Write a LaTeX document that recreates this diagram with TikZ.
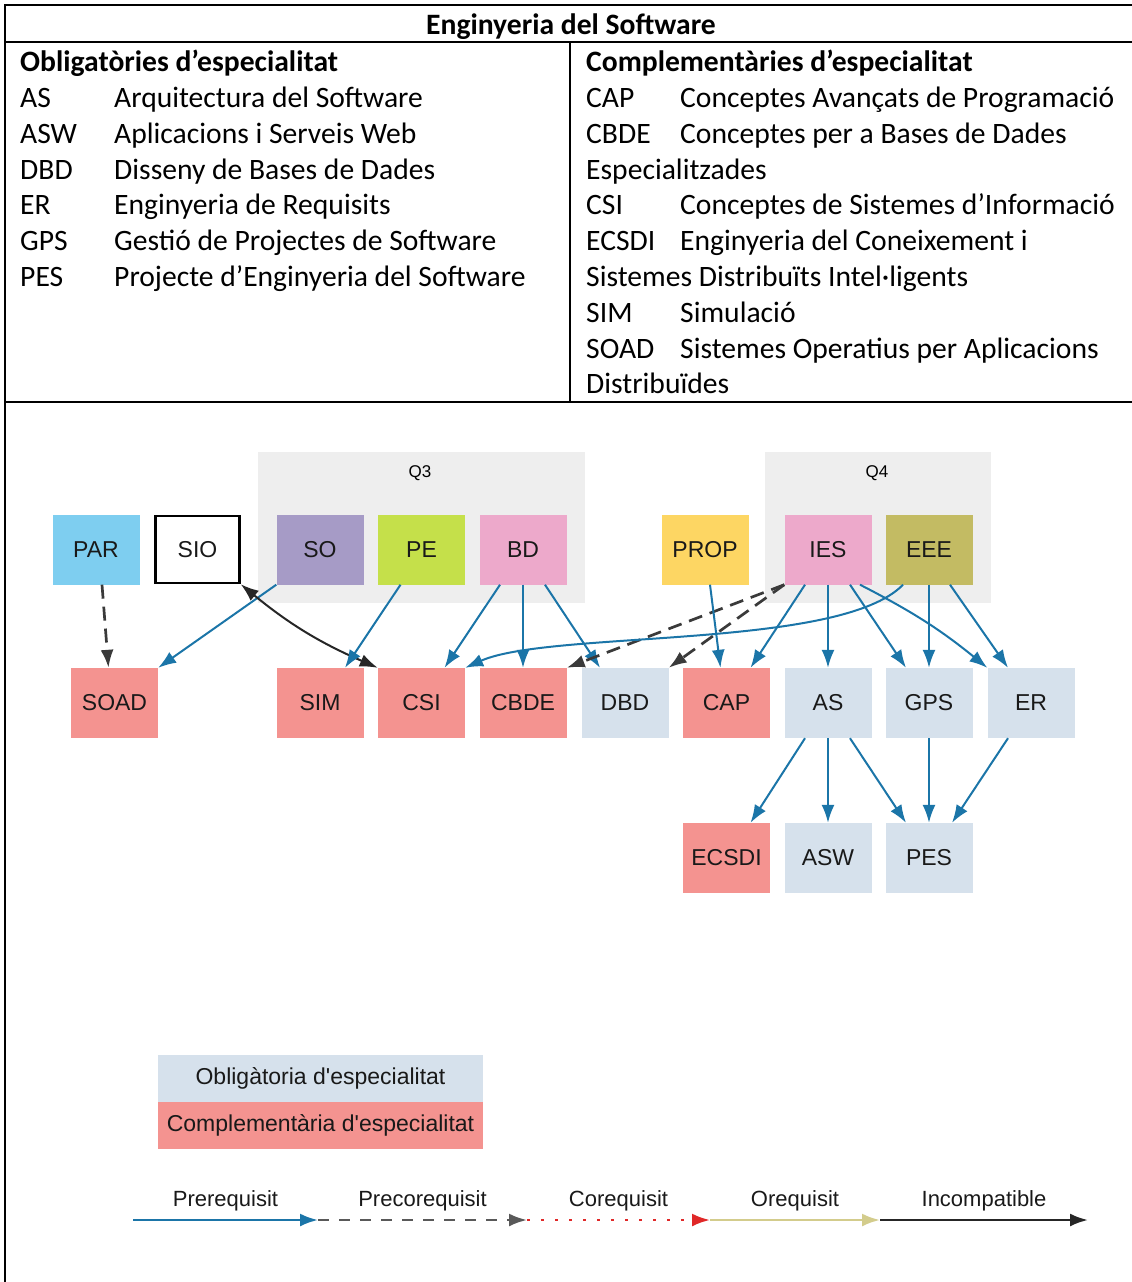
\documentclass[tikz,border=0pt]{standalone}
\usepackage{fontspec}
\setmainfont{Carlito}
\newfontfamily\diagfont{Liberation Sans}
\usetikzlibrary{arrows.meta}
\definecolor{prereqblue}{HTML}{1B75A8}
\definecolor{precoregray}{HTML}{3A3A3A}
\definecolor{coreqred}{HTML}{E02828}
\definecolor{oreqkhaki}{HTML}{D3CC8C}
\definecolor{oblcol}{HTML}{D6E1EC}
\definecolor{compcol}{HTML}{F49390}
\definecolor{groupbg}{HTML}{EEEEEE}
\definecolor{parcol}{HTML}{7ECEF0}
\definecolor{socol}{HTML}{A69BC6}
\definecolor{pecol}{HTML}{C5E04A}
\definecolor{bdcol}{HTML}{EDA9CB}
\definecolor{propcol}{HTML}{FDD663}
\definecolor{eeecol}{HTML}{C3BB63}
\begin{document}
\begin{tikzpicture}[x=1pt,y=-1pt,>={Latex[length=18pt,width=13pt]}]
\tikzset{
  subject/.style={minimum width=87pt,minimum height=70pt,inner sep=0pt,text=black!90,font=\diagfont\fontsize{23}{26}\selectfont},
  obl/.style={subject,fill=oblcol},
  comp/.style={subject,fill=compcol},
  pre/.style={->,draw=prereqblue,line width=2pt},
  precore/.style={->,draw=precoregray,line width=2.7pt,dash pattern=on 14pt off 8pt},
  incomp/.style={draw=black!85,line width=2pt},
  tabtext/.style={anchor=base west,inner sep=0pt,font=\fontsize{29.6}{35}\selectfont},
  tabhead/.style={tabtext,font=\bfseries\fontsize{29.6}{35}\selectfont},
  qlabel/.style={font=\diagfont\fontsize{17}{19}\selectfont},
  legendlabel/.style={font=\diagfont\fontsize{22}{25}\selectfont,text=black!90},
  keybox/.style={minimum width=325pt,minimum height=47pt,inner sep=0pt,text=black!90,font=\diagfont\fontsize{23}{26}\selectfont}
}
\useasboundingbox (0,0) rectangle (1132,1282);
\draw[line width=2pt] (5,5) -- (1132,5);
\draw[line width=2pt] (5,42) -- (1132,42);
\draw[line width=1.5pt] (5,402) -- (1132,402);
\draw[line width=1.5pt] (570,42) -- (570,402);
\draw[line width=2pt] (5,4) -- (5,1282);
\node[tabhead,anchor=base] (title) at (571,34) {Enginyeria del Software};
\node[tabhead] (oblhead) at (20,71.5) {Obligatòries d’especialitat};
\node[tabhead] (comphead) at (586,71.5) {Complementàries d’especialitat};
\foreach \a/\b [count=\i] in {AS/Arquitectura del Software,ASW/Aplicacions i Serveis Web,DBD/Disseny de Bases de Dades,ER/Enginyeria de Requisits,GPS/Gestió de Projectes de Software,PES/Projecte d’Enginyeria del Software}{
  \node[tabtext] (oa\i) at (20,{107.5+35.8*(\i-1)}) {\a};
  \node[tabtext] (ob\i) at (114,{107.5+35.8*(\i-1)}) {\b};
}
\foreach \a/\b [count=\i] in {CAP/Conceptes Avançats de Programació,CBDE/Conceptes per a Bases de Dades,Especialitzades/,CSI/Conceptes de Sistemes d’Informació,ECSDI/Enginyeria del Coneixement i,Sistemes Distribuïts Intel·ligents/,SIM/Simulació,SOAD/Sistemes Operatius per Aplicacions,Distribuïdes/}{
  \node[tabtext] (ca\i) at (586,{107.5+35.8*(\i-1)}) {\a};
  \node[tabtext] (cb\i) at (680,{107.5+35.8*(\i-1)}) {\b};
}
\fill[groupbg] (258,452) rectangle (585,603);
\fill[groupbg] (765,452) rectangle (991,603);
\node[qlabel] (q3) at (420,473) {Q3};
\node[qlabel] (q4) at (877,473) {Q4};
\node[subject,fill=parcol] (par) at (96,549.5) {PAR};
\node[subject,fill=white,draw=black,line width=2.5pt,minimum width=84pt,minimum height=67pt] (sio) at (197.5,549.5) {SIO};
\node[subject,fill=socol] (so) at (320,549.5) {SO};
\node[subject,fill=pecol] (pe) at (421.5,549.5) {PE};
\node[subject,fill=bdcol] (bd) at (523,549.5) {BD};
\node[subject,fill=propcol] (prop) at (705,549.5) {PROP};
\node[subject,fill=bdcol] (ies) at (828,549.5) {IES};
\node[subject,fill=eeecol] (eee) at (929,549.5) {EEE};
\node[comp] (soad) at (114.5,703) {SOAD};
\node[comp] (sim) at (320,703) {SIM};
\node[comp] (csi) at (421.5,703) {CSI};
\node[comp] (cbde) at (523,703) {CBDE};
\node[obl] (dbd) at (625,703) {DBD};
\node[comp] (cap) at (726.5,703) {CAP};
\node[obl] (as) at (828,703) {AS};
\node[obl] (gps) at (929,703) {GPS};
\node[obl] (er) at (1031,703) {ER};
\node[comp] (ecsdi) at (726.5,858) {ECSDI};
\node[obl] (asw) at (828,858) {ASW};
\node[obl] (pes) at (929,858) {PES};
\draw[precore] ([xshift=6]par.south) -- ([xshift=-6]soad.north);
\draw[pre] (so.south west) -- (soad.north east);
\draw[incomp,<->] (sio.south east) to[bend right=8] (csi.north west);
\draw[pre] ([xshift=-21]pe.south) -- ([xshift=25]sim.north);
\draw[pre] ([xshift=-23]bd.south) -- ([xshift=23]csi.north);
\draw[pre] (bd) -- (cbde);
\draw[pre] ([xshift=22]bd.south) -- ([xshift=-25]dbd.north);
\draw[precore] (ies.south west) -- (cbde.north east);
\draw[precore] (ies.south west) -- (dbd.north east);
\draw[pre] ([xshift=5]prop.south) -- ([xshift=-6]cap.north);
\draw[pre] ([xshift=-23]ies.south) -- ([xshift=24]cap.north);
\draw[pre] (ies) -- (as);
\draw[pre] ([xshift=22]ies.south) -- ([xshift=-23]gps.north);
\draw[pre] ([xshift=32]ies.south) to[bend left=6] (er.north west);
\draw[pre] ([xshift=-26]eee.south) .. controls (840,650) and (550,630) .. (csi.north east);
\draw[pre] (eee) -- (gps);
\draw[pre] ([xshift=21]eee.south) -- ([xshift=-23]er.north);
\draw[pre] ([xshift=-23]as.south) -- ([xshift=24]ecsdi.north);
\draw[pre] (as) -- (asw);
\draw[pre] ([xshift=22]as.south) -- ([xshift=-23]pes.north);
\draw[pre] (gps) -- (pes);
\draw[pre] ([xshift=-23]er.south) -- ([xshift=23]pes.north);
\node[keybox,fill=oblcol] (oblkey) at (320.5,1078.5) {Obligàtoria d'especialitat};
\node[keybox,fill=compcol] (compkey) at (320.5,1125.5) {Complementària d'especialitat};
\coordinate (l0) at (133,1220);
\coordinate (l1) at (318,1220);
\coordinate (l2) at (527,1220);
\coordinate (l3) at (710,1220);
\coordinate (l4) at (880,1220);
\coordinate (l5) at (1088,1220);
\draw[pre,line width=2.5pt] (l0) -- node[midway,above=4pt,legendlabel] (prelbl) {Prerequisit} (l1);
\draw[precore,draw=black!65,line width=2.5pt,dash pattern=on 11pt off 10pt] (l1) -- node[midway,above=4pt,legendlabel] (precorelbl) {Precorequisit} (l2);
\draw[->,draw=coreqred,line width=2.5pt,dash pattern=on 3pt off 11pt] (l2) -- node[midway,above=4pt,legendlabel] (coreqlbl) {Corequisit} (l3);
\draw[->,draw=oreqkhaki,line width=2.5pt] (l3) -- node[midway,above=4pt,legendlabel] (oreqlbl) {Orequisit} (l4);
\draw[->,incomp,line width=2.5pt] (l4) -- node[midway,above=4pt,legendlabel] (incomplbl) {Incompatible} (l5);
\end{tikzpicture}
\end{document}
